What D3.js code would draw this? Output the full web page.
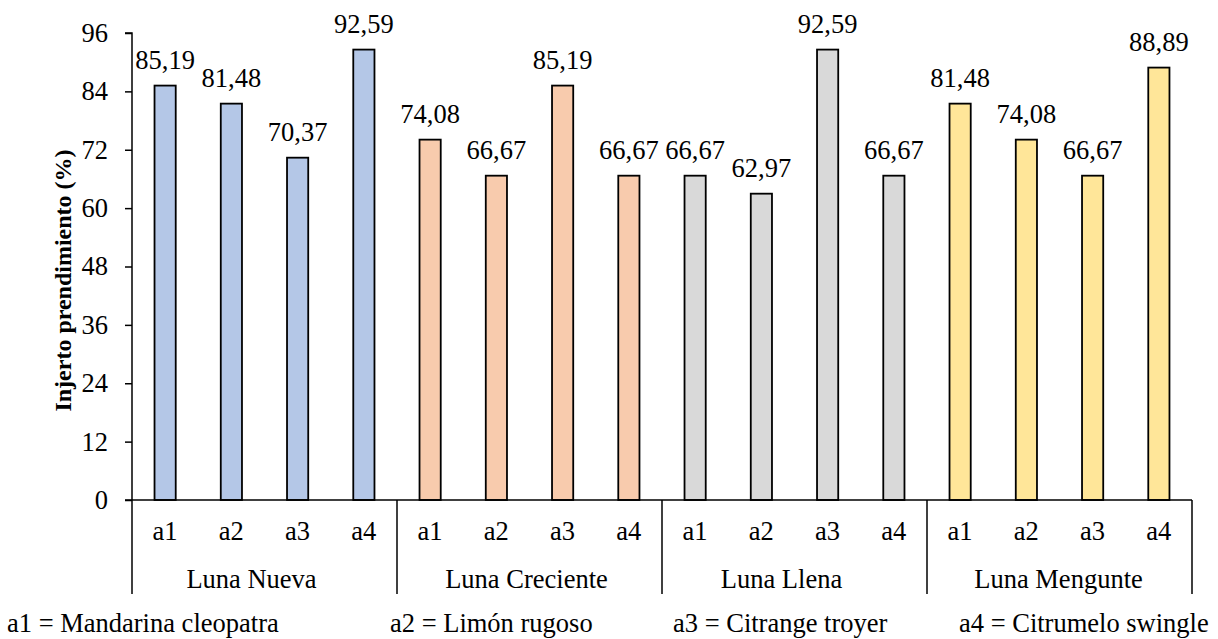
<!DOCTYPE html>
<html>
<head>
<meta charset="utf-8">
<script src="https://cdn.jsdelivr.net/npm/d3@7"></script>
<style>
  html, body { margin: 0; padding: 0; background: #fff; }
  svg { display: block; }
</style>
</head>
<body>
<svg id="chart" width="1218" height="639"></svg>
<script>
// Grupos (fases lunares) y portainjertos
const phases = ["Luna Nueva", "Luna Creciente", "Luna Llena", "Luna Mengunte"];
const rootstocks = ["a1", "a2", "a3", "a4"];

// Prendimiento del injerto (%) por fase lunar, en el orden a1..a4
const lunaNueva = [85.19, 81.48, 70.37, 92.59];
const lunaCreciente = [74.08, 66.67, 85.19, 66.67];
const lunaLlena = [66.67, 62.97, 92.59, 66.67];
const lunaMengunte = [81.48, 74.08, 66.67, 88.89];

const yTicks = [0, 12, 24, 36, 48, 60, 72, 84, 96];
const legendItems = ["a1 = Mandarina cleopatra", "a2 = Limón rugoso", "a3 = Citrange troyer", "a4 = Citrumelo swingle"];
const phaseColors = ["#B4C7E7", "#F8CBAD", "#D9D9D9", "#FFE699"];

const FONT = '"Liberation Serif", "Times New Roman", serif';
const FS = "26.5px";

const seriesByPhase = [lunaNueva, lunaCreciente, lunaLlena, lunaMengunte];
const rows = [];
phases.forEach((p, i) => {
  rootstocks.forEach((r, j) => rows.push({ phase: p, pi: i, root: r, value: seriesByPhase[i][j] }));
});

const svg = d3.select("#chart");
const mLeft = 132, mRight = 1192, mTop = 33, mBottom = 500;

const y = d3.scaleLinear().domain([0, 96]).range([mBottom, mTop]);
const xPhase = d3.scaleBand().domain(phases).range([mLeft, mRight]).padding(0);
const xRoot = d3.scaleBand().domain(rootstocks).range([0, xPhase.bandwidth()]).padding(0);
const barW = xRoot.bandwidth() * 0.32;

// Eje Y
const yAxis = d3.axisLeft(y).tickValues(yTicks).tickSize(7).tickPadding(17).tickFormat(d3.format("d"));
const gy = svg.append("g").attr("transform", `translate(${mLeft},0)`).call(yAxis);
gy.select(".domain").attr("stroke", "#000").attr("stroke-width", 1.5).attr("d", `M-7,${mTop}H0V${mBottom}`);
gy.selectAll(".tick line").attr("stroke", "#000").attr("stroke-width", 1.5);
gy.selectAll(".tick text").style("font-size", FS).style("font-family", FONT).attr("fill", "#000");

// Barras
svg.append("g").selectAll("rect").data(rows).join("rect")
  .attr("x", d => xPhase(d.phase) + xRoot(d.root) + (xRoot.bandwidth() - barW) / 2)
  .attr("y", d => y(d.value))
  .attr("width", barW)
  .attr("height", d => y(0) - y(d.value))
  .attr("fill", d => phaseColors[d.pi])
  .attr("stroke", "#000")
  .attr("stroke-width", 1.8);

// Etiquetas de valor (coma decimal)
const fmt = v => d3.format(".2f")(v).replace(".", ",");
svg.append("g").selectAll("text").data(rows).join("text")
  .attr("x", d => xPhase(d.phase) + xRoot(d.root) + xRoot.bandwidth() / 2)
  .attr("y", d => y(d.value) - 17)
  .attr("text-anchor", "middle")
  .style("font-family", FONT).style("font-size", FS)
  .text(d => fmt(d.value));

// Línea base del eje X
svg.append("line")
  .attr("x1", mLeft - 7).attr("x2", mRight)
  .attr("y1", mBottom).attr("y2", mBottom)
  .attr("stroke", "#000").attr("stroke-width", 1.5);

// Separadores de grupos
const seps = phases.map(p => xPhase(p)).concat([mRight]);
svg.append("g").selectAll("line").data(seps).join("line")
  .attr("x1", d => d).attr("x2", d => d)
  .attr("y1", mBottom).attr("y2", 594)
  .attr("stroke", "#000").attr("stroke-width", 1.5);

// Etiquetas de portainjertos
svg.append("g").selectAll("text").data(rows).join("text")
  .attr("x", d => xPhase(d.phase) + xRoot(d.root) + xRoot.bandwidth() / 2)
  .attr("y", 540)
  .attr("text-anchor", "middle")
  .style("font-family", FONT).style("font-size", FS)
  .text(d => d.root);

// Etiquetas de fases lunares (ligeramente desplazadas a la izquierda)
const phaseLabelShift = [-13, -3, -13, -1];
svg.append("g").selectAll("text").data(phases).join("text")
  .attr("x", (d, i) => xPhase(d) + xPhase.bandwidth() / 2 + phaseLabelShift[i])
  .attr("y", 588)
  .attr("text-anchor", "middle")
  .style("font-family", FONT).style("font-size", FS)
  .text(d => d);

// Título del eje Y
svg.append("text")
  .attr("transform", `translate(71,${(mTop + mBottom) / 2 + 14}) rotate(-90)`)
  .attr("text-anchor", "middle")
  .style("font-family", FONT)
  .style("font-size", "24px")
  .style("font-weight", "bold")
  .text("Injerto prendimiento (%)");

// Leyenda
const legendX = [7, 390, 673, 959];
svg.append("g").selectAll("text").data(legendItems).join("text")
  .attr("x", (d, i) => legendX[i])
  .attr("y", 632)
  .style("font-family", FONT).style("font-size", FS)
  .text(d => d);
</script>
</body>
</html>
